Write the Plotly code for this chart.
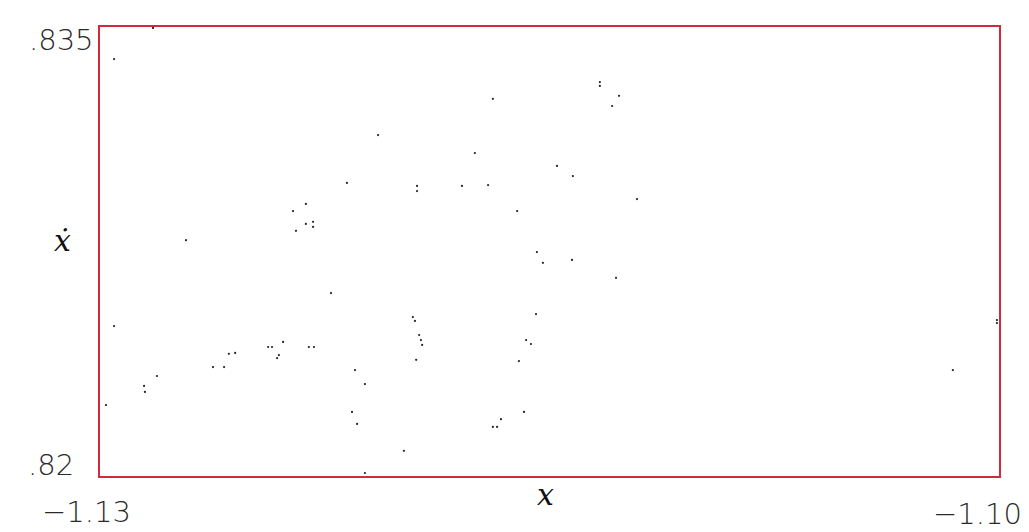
import plotly.graph_objects as go

# Phase-plane samples (x, x-dot)
x_vals = [
    -1.12953, -1.12823, -1.12313, -1.12356, -1.12313, -1.12289, -1.12346, -1.12289,
    -1.12713, -1.11689, -1.12072, -1.11749, -1.12176, -1.11942, -1.11942, -1.11792,
    -1.11705, -1.11608, -1.11332, -1.11332, -1.11268, -1.11291, -1.11475, -1.11422,
    -1.11208, -1.12953, -1.12980, -1.12853, -1.12850, -1.12810, -1.12623, -1.12586,
    -1.12570, -1.12549, -1.12439, -1.12426, -1.12389, -1.12403, -1.12409, -1.12303,
    -1.12286, -1.11542, -1.12229, -1.11956, -1.11949, -1.11935, -1.11929, -1.11925,
    -1.11945, -1.11545, -1.11578, -1.11562, -1.11602, -1.12149, -1.12116, -1.12159,
    -1.12142, -1.11986, -1.12116, -1.11662, -1.11689, -1.11675, -1.11585, -1.11522,
    -1.11425, -1.11278, -1.10007, -1.10007, -1.10154,
]
xdot_vals = [
    0.83393, 0.83497, 0.82909, 0.82885, 0.82842, 0.82849, 0.82819, 0.82832,
    0.82788, 0.83260, 0.83139, 0.83079, 0.82979, 0.82969, 0.82952, 0.82969,
    0.82972, 0.82885, 0.83316, 0.83303, 0.83270, 0.83236, 0.83036, 0.83002,
    0.82925, 0.82501, 0.82237, 0.82301, 0.82281, 0.82334, 0.82364, 0.82364,
    0.82408, 0.82411, 0.82431, 0.82431, 0.82448, 0.82404, 0.82394, 0.82431,
    0.82431, 0.82748, 0.82611, 0.82531, 0.82518, 0.82471, 0.82454, 0.82438,
    0.82388, 0.82541, 0.82454, 0.82441, 0.82384, 0.82354, 0.82307, 0.82214,
    0.82174, 0.82084, 0.82010, 0.82190, 0.82164, 0.82164, 0.82214, 0.82712,
    0.82722, 0.82662, 0.82521, 0.82511, 0.82354,
]

x_range = [-1.13, -1.10]
y_range = [0.82, 0.835]
x_tick_text = ["\u22121.13", "\u22121.10"]
y_tick_text = [".82", ".835"]

W, H = 1029, 532
L, R, T, B = 100, 30, 27, 56
pw, ph = W - L - R, H - T - B


def px_x(p):
    return (p - L) / pw


def px_y(p):
    return (H - B - p) / ph


fig = go.Figure(
    go.Scatter(
        x=x_vals, y=xdot_vals, mode="markers",
        marker=dict(size=2.2, color="#222222"),
        hoverinfo="skip",
    )
)

axis_common = dict(
    showgrid=False, zeroline=False, showticklabels=False, ticks="",
    showline=True, mirror=True, linecolor="#cf2a3e", linewidth=1.6,
)
fig.update_xaxes(range=x_range, **axis_common)
fig.update_yaxes(range=y_range, **axis_common)

num_font = dict(family="DejaVu Sans", size=29, color="#2a2a2a", weight=200)
math_font = dict(family="DejaVu Serif", size=30, color="#111111", style="italic")

annotations = [
    dict(text=y_tick_text[1], x=px_x(96), y=px_y(40), xanchor="right", yanchor="middle", font=num_font),
    dict(text=y_tick_text[0], x=px_x(76), y=px_y(465), xanchor="right", yanchor="middle", font=num_font),
    dict(text=x_tick_text[0], x=px_x(86), y=px_y(512), xanchor="center", yanchor="middle", font=num_font),
    dict(text=x_tick_text[1], x=px_x(1024), y=px_y(514), xanchor="right", yanchor="middle", font=num_font),
    dict(text="x", x=px_x(545), y=px_y(495), xanchor="center", yanchor="middle", font=math_font),
    dict(text="\u1e8b", x=px_x(62), y=px_y(240), xanchor="center", yanchor="middle", font=math_font),
]
for a in annotations:
    a.update(xref="paper", yref="paper", showarrow=False)

fig.update_layout(
    width=W, height=H,
    margin=dict(l=L, r=R, t=T, b=B),
    paper_bgcolor="white", plot_bgcolor="white",
    showlegend=False,
    annotations=annotations,
)

fig.write_html("out.html", config={"displayModeBar": False})
